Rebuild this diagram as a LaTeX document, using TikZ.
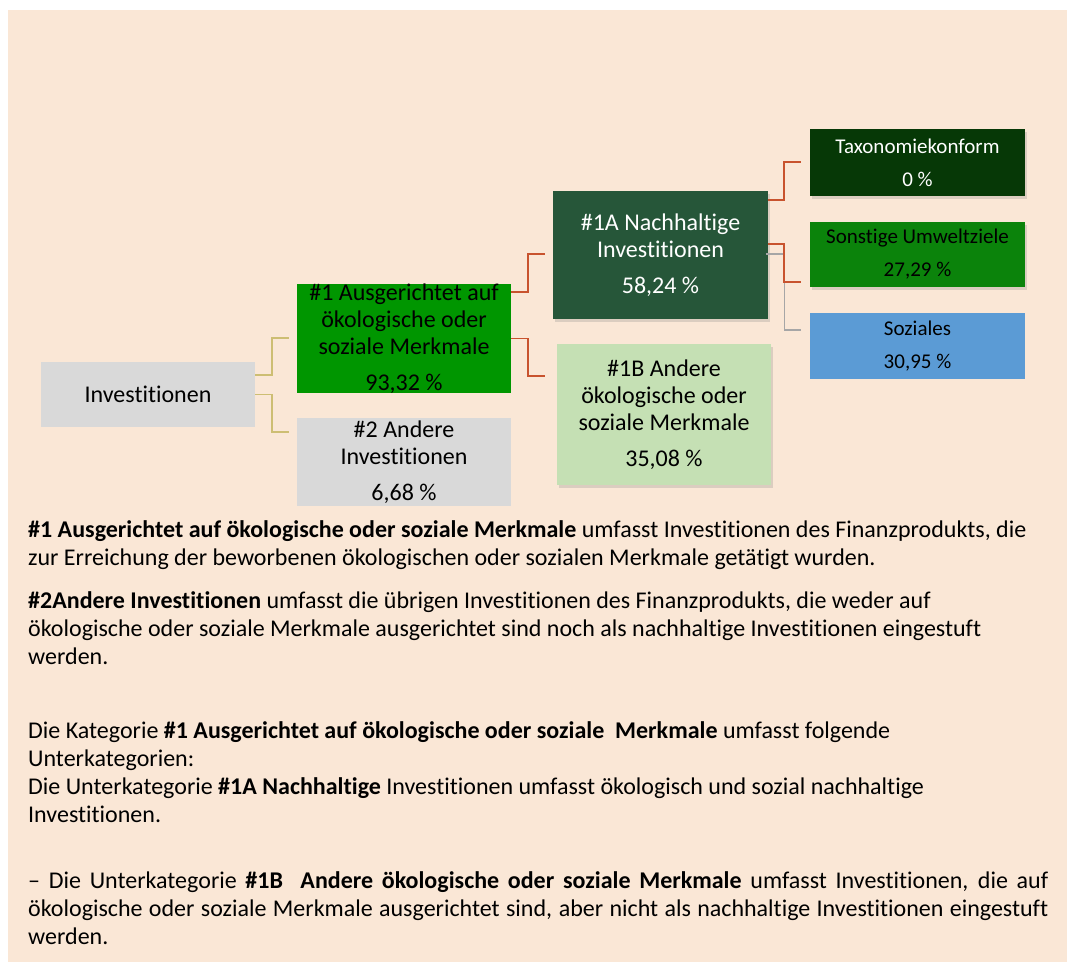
\documentclass[tikz,border=0pt]{standalone}
\usepackage{fontspec}
\setmainfont{Carlito}[Ligatures=CommonOff]
\usepackage{tikz}
\usetikzlibrary{shadows}
\definecolor{bgbeige}{HTML}{FAE7D6}
\definecolor{boxgray}{HTML}{D9D9D9}
\definecolor{greenone}{HTML}{009600}
\definecolor{greenonea}{HTML}{265639}
\definecolor{greenoneb}{HTML}{C5E0B4}
\definecolor{greentax}{HTML}{063806}
\definecolor{greenenv}{HTML}{0B830B}
\definecolor{bluesoc}{HTML}{5B9BD5}
\definecolor{linekhaki}{HTML}{CDBE73}
\definecolor{linered}{HTML}{C8532E}
\definecolor{linegray}{HTML}{A6A6A6}

\begin{document}
\begin{tikzpicture}[x=1pt, y=-1pt,
		box/.style={inner sep=0pt, align=center, font=\fontsize{24}{27}\selectfont},
		smallbox/.style={inner sep=0pt, align=center, font=\fontsize{21}{25}\selectfont},
		shadebox/.style={drop shadow={shadow xshift=1.5pt, shadow yshift=-3pt, opacity=0.25}},
		khakiline/.style={draw=linekhaki, line width=1.6pt},
		redline/.style={draw=linered, line width=1.6pt},
		grayline/.style={draw=linegray, line width=1.3pt},
		body/.style={anchor=base west, inner sep=0pt, align=justify, text width=1040pt, font=\fontsize{24}{28}\selectfont, execute at begin node={\spaceskip=0pt\xspaceskip=0pt}}]
	\useasboundingbox (0,0) rectangle (1067,963);
	\fill[bgbeige] (8,10) rectangle (1067,962);
	% tree of boxes
	\node[box, fill=boxgray, minimum width=214pt, minimum height=65pt] (inv) at (148,394.5) {Investitionen};
	\node[box, fill=greenone, minimum width=214pt, minimum height=109pt] (one) at (404,338.5) {\#1 Ausgerichtet auf\\ ökologische oder\\ soziale Merkmale\\[9pt] 93,32 \%};
	\node[box, fill=boxgray, minimum width=214pt, minimum height=88pt] (two) at (404,462) {\#2 Andere\\ Investitionen\\[9pt] 6,68 \%};
	\node[box, shadebox, fill=greenonea, text=white, minimum width=215pt, minimum height=128pt] (onea) at (660.5,255) {\#1A Nachhaltige\\ Investitionen\\[9pt] 58,24 \%};
	\node[box, shadebox, fill=greenoneb, minimum width=214pt, minimum height=141pt] (oneb) at (664,414.5) {\#1B Andere\\ ökologische oder\\ soziale Merkmale\\[9pt] 35,08 \%};
	\node[smallbox, shadebox, fill=greentax, text=white, minimum width=215pt, minimum height=67pt] (tax) at (917.5,162.5) {Taxonomiekonform\\[8pt] 0 \%};
	\node[smallbox, shadebox, fill=greenenv, minimum width=215pt, minimum height=65pt] (env) at (917.5,254.5) {Sonstige Umweltziele\\[8pt] 27,29 \%};
	\node[smallbox, fill=bluesoc, minimum width=215pt, minimum height=66pt] (soc) at (917.5,346) {Soziales\\[8pt] 30,95 \%};
	% free ends of the connectors
	\coordinate (toone) at (289,338);
	\coordinate (totwo) at (289,432);
	\coordinate (toonea) at (545,254);
	\coordinate (tooneb) at (545,376);
	\coordinate (totax) at (801,162);
	\coordinate (toenv) at (801,282);
	\coordinate (tosoc) at (801,330);
	\draw[khakiline] ([yshift=19.5pt]inv.east) -- ++(17,0) |- (toone);
	\draw[khakiline] (inv.east) -- ++(17,0) |- (totwo);
	\draw[redline] ([yshift=46.5pt]one.east) -- ++(17,0) |- (toonea);
	\draw[redline] (one.east) -- ++(17,0) |- (tooneb);
	\draw[grayline] ([yshift=1pt,xshift=-2pt]onea.east) -- ++(18,0) |- (tosoc);
	\draw[redline] ([yshift=55pt]onea.east) -- ++(16,0) |- (totax);
	\draw[redline] ([yshift=11pt]onea.east) -- ++(16,0) |- (toenv);
	% text below
	\node[body] (textone) at (28,537) {\textbf{\#1 Ausgerichtet auf ökologische oder soziale Merkmale} umfasst Investitionen des Finanzprodukts, die\\ zur Erreichung der beworbenen ökologischen oder sozialen Merkmale getätigt wurden.};
	\node[body] (texttwo) at (28,608) {\textbf{\#2Andere Investitionen} umfasst die übrigen Investitionen des Finanzprodukts, die weder auf\\ ökologische oder soziale Merkmale ausgerichtet sind noch als nachhaltige Investitionen eingestuft\\ werden.};
	\node[body] (textthree) at (28,738) {Die Kategorie \textbf{\#1 Ausgerichtet auf ökologische oder soziale\ \ Merkmale} umfasst folgende\\ Unterkategorien:\\ Die Unterkategorie \textbf{\#1A Nachhaltige} Investitionen umfasst ökologisch und sozial nachhaltige\\ Investitionen.};
	\node[body] (textfour) at (28,888) {\makebox[1020pt][s]{– Die Unterkategorie \textbf{\#1B\ \ Andere ökologische oder soziale Merkmale} umfasst Investitionen, die auf}\\ \makebox[1020pt][s]{ökologische oder soziale Merkmale ausgerichtet sind, aber nicht als nachhaltige Investitionen eingestuft}\\ werden.};
\end{tikzpicture}
\end{document}
